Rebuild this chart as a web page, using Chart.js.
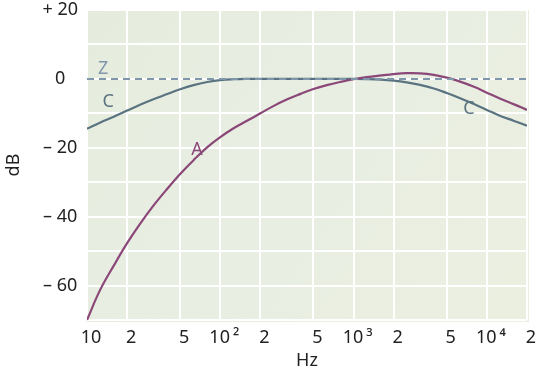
<!DOCTYPE html>
<html><head><meta charset="utf-8">
<script src="https://cdn.jsdelivr.net/npm/chart.js@4.4.1/dist/chart.umd.min.js"></script>
<style>html,body{margin:0;padding:0;background:#fff;}canvas{display:block;}</style>
</head><body>
<canvas id="c" width="543" height="373"></canvas>
<script>
// ---- data ----
const freqs   = [10, 12.5, 16, 20, 25, 31.5, 40, 50, 63, 80, 100, 125, 160, 200, 250, 315, 400, 500, 630, 800, 1000, 1250, 1600, 2000, 2500, 3150, 4000, 5000, 6300, 8000, 10000, 12500, 16000, 20000];
const aWeight = [-70, -61.4, -54.0, -47.7, -42.1, -36.8, -31.9, -27.6, -23.6, -19.8, -16.9, -14.4, -12.1, -10.0, -7.9, -6.0, -4.35, -2.95, -1.8, -0.85, -0.1, 0.5, 1.0, 1.4, 1.65, 1.6, 1.15, 0.35, -0.8, -2.3, -4.0, -5.7, -7.4, -9.0];
const cWeight = [-14.5, -12.7, -10.9, -9.2, -7.5, -5.9, -4.4, -3.0, -1.8, -0.9, -0.35, -0.1, 0, 0, 0, 0, 0, 0, 0, 0, 0, -0.05, -0.2, -0.5, -1.0, -1.75, -2.8, -4.1, -5.6, -7.3, -9.0, -10.7, -12.2, -13.6];
const zFreqs  = [10, 20000];
const zWeight = [0, 0];

const xTickValues = [10, 20, 50, 100, 200, 500, 1000, 2000, 5000, 10000, 20000];
const xTickLabels = ['10', '2', '5', '10\u2009\u00B2', '2', '5', '10\u2009\u00B3', '2', '5', '10\u2009\u2074', '2'];
const yTickValues = [20, 0, -20, -40, -60];
const yTickLabels = ['+ 20', '0', '\u2013 20', '\u2013 40', '\u2013 60'];

const curveLabelText = ['Z', 'C', 'A', 'C'];
const curveLabelFreq = [13.2, 14.4, 67, 7350];
const curveLabelDb   = [2.9, -6.7, -20.6, -8.7];

// ---- styles ----
const colA = '#8a4778', colC = '#5a7381', colZ = '#8096ab';
const labelCols = [colZ, colC, colA, colC];
const FONT = '"Noto Sans", "DejaVu Sans", sans-serif';

const toXY = (xs, ys) => xs.map((x, i) => ({x: x, y: ys[i]}));

const bgPlugin = {
  id: 'plotbg',
  beforeDraw(chart) {
    const {ctx, chartArea: a} = chart;
    ctx.save();
    const g = ctx.createLinearGradient(a.left, a.top, a.right, a.bottom);
    g.addColorStop(0, '#e6ecdd');
    g.addColorStop(0.5, '#e8eee2');
    g.addColorStop(1, '#ebefe0');
    ctx.fillStyle = g;
    ctx.fillRect(a.left - 1, a.top, a.right - a.left + 3, a.bottom - a.top + 2);
    ctx.restore();
  }
};

const labelPlugin = {
  id: 'curvelabels',
  afterDatasetsDraw(chart) {
    const {ctx, scales: {x, y}} = chart;
    ctx.save();
    ctx.font = '18px ' + FONT;
    ctx.textAlign = 'center';
    ctx.textBaseline = 'middle';
    curveLabelText.forEach((t, i) => {
      ctx.fillStyle = labelCols[i];
      ctx.fillText(t, x.getPixelForValue(curveLabelFreq[i]), y.getPixelForValue(curveLabelDb[i]));
    });
    ctx.restore();
  }
};

new Chart(document.getElementById('c'), {
  type: 'line',
  data: {
    datasets: [
      {label: 'Z', data: toXY(zFreqs, zWeight), borderColor: colZ, borderWidth: 2, borderDash: [7, 5], pointRadius: 0, fill: false},
      {label: 'A', data: toXY(freqs, aWeight), borderColor: colA, borderWidth: 2.2, pointRadius: 0, fill: false, tension: 0.4},
      {label: 'C', data: toXY(freqs, cWeight), borderColor: colC, borderWidth: 2.2, pointRadius: 0, fill: false, tension: 0.4}
    ]
  },
  options: {
    responsive: false,
    animation: false,
    devicePixelRatio: 1,
    layout: {padding: {top: 10, right: 16, bottom: 0, left: 0}},
    plugins: {legend: {display: false}, tooltip: {enabled: false}},
    scales: {
      x: {
        type: 'logarithmic',
        min: 10, max: 20000,
        afterBuildTicks(s) { s.ticks = xTickValues.map(v => ({value: v})); },
        afterFit(s) { s.height = 53; },
        grid: {color: '#ffffff', lineWidth: 2, drawTicks: false},
        border: {display: false},
        ticks: {
          autoSkip: false, maxRotation: 0, padding: 8, labelOffset: 4,
          color: '#222', font: {family: FONT, size: 18, lineHeight: 1.1},
          callback: (v, i) => xTickLabels[i]
        },
        title: {display: true, text: 'Hz', color: '#222', font: {family: FONT, size: 18, lineHeight: 1.1}, padding: {top: 0, bottom: 2}}
      },
      y: {
        min: -70, max: 20,
        afterBuildTicks(s) {
          const t = [];
          for (let v = -70; v <= 20; v += 10) t.push({value: v});
          s.ticks = t;
        },
        afterFit(s) { s.width = 87; s.paddingTop = 0; s.paddingBottom = 0; },
        grid: {color: '#ffffff', lineWidth: 2, drawTicks: false},
        border: {display: false},
        ticks: {
          padding: 9, crossAlign: 'center',
          color: '#222', font: {family: FONT, size: 18, lineHeight: 1.1},
          callback: (v) => { const k = yTickValues.indexOf(v); return k >= 0 ? yTickLabels[k] : ''; }
        },
        title: {display: true, text: 'dB', color: '#222', font: {family: FONT, size: 18, lineHeight: 1.1}, padding: {top: 4, bottom: 0}}
      }
    }
  },
  plugins: [bgPlugin, labelPlugin]
});
</script>
</body></html>
